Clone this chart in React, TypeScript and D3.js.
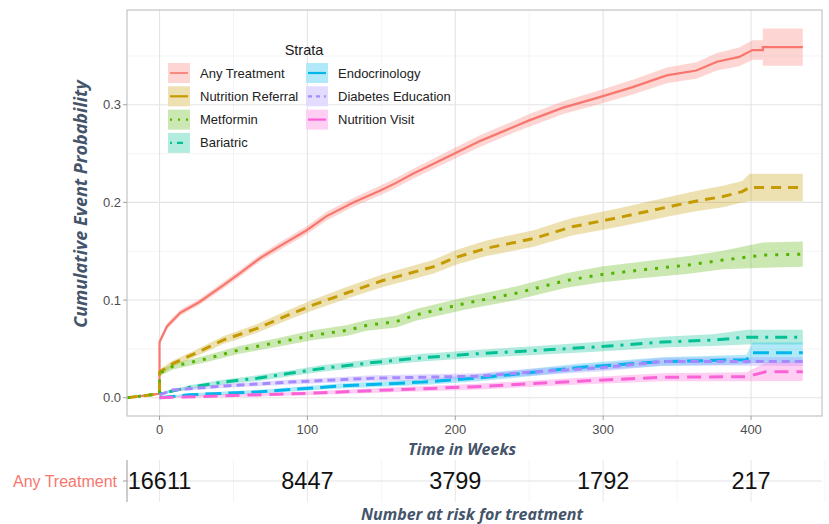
import React from "react";
import * as d3 from "d3";

// series
const strata = [
  "Any Treatment",
  "Nutrition Referral",
  "Metformin",
  "Bariatric",
  "Endocrinology",
  "Diabetes Education",
  "Nutrition Visit",
];

const weeksAny = [-22, 0, 0, 5, 14, 27, 43, 54, 68, 81, 99, 113, 131, 149, 160, 171, 194, 217, 239, 250, 273, 296, 320, 343, 363, 377, 392, 401, 408, 408, 435];
const estAny = [0, 0.004, 0.057, 0.073, 0.087, 0.098, 0.115, 0.127, 0.143, 0.155, 0.171, 0.186, 0.2, 0.212, 0.22, 0.229, 0.246, 0.263, 0.277, 0.284, 0.297, 0.307, 0.318, 0.33, 0.335, 0.344, 0.349, 0.356, 0.356, 0.359, 0.359];
const ciAny = [0.001, 0.001, 0.003, 0.003, 0.003, 0.003, 0.0035, 0.0035, 0.0035, 0.004, 0.004, 0.0045, 0.0045, 0.005, 0.005, 0.005, 0.0055, 0.006, 0.006, 0.0065, 0.0065, 0.007, 0.0075, 0.008, 0.0085, 0.009, 0.0095, 0.01, 0.01, 0.019, 0.019];

const weeksReferral = [-22, 0, 0, 9, 25, 43, 66, 86, 104, 126, 151, 185, 201, 221, 253, 279, 309, 349, 365, 381, 394, 399, 435];
const estReferral = [0, 0.004, 0.026, 0.035, 0.046, 0.059, 0.071, 0.084, 0.095, 0.107, 0.12, 0.134, 0.144, 0.153, 0.163, 0.175, 0.184, 0.197, 0.202, 0.206, 0.211, 0.2153, 0.2153];
const ciReferral = [0.001, 0.001, 0.003, 0.003, 0.0035, 0.004, 0.0045, 0.005, 0.0055, 0.006, 0.0065, 0.007, 0.0075, 0.008, 0.0085, 0.009, 0.0095, 0.01, 0.0105, 0.011, 0.011, 0.014, 0.014];

const weeksMetformin = [-22, 0, 0, 9, 32, 54, 81, 104, 127, 140, 160, 174, 208, 241, 275, 298, 327, 358, 381, 408, 435];
const estMetformin = [0, 0.004, 0.025, 0.032, 0.04, 0.049, 0.057, 0.064, 0.069, 0.074, 0.078, 0.085, 0.097, 0.107, 0.12, 0.126, 0.131, 0.136, 0.141, 0.146, 0.147];
const ciMetformin = [0.001, 0.001, 0.003, 0.003, 0.0035, 0.004, 0.0045, 0.005, 0.0055, 0.0055, 0.006, 0.006, 0.0065, 0.007, 0.0075, 0.008, 0.0085, 0.009, 0.0095, 0.013, 0.013];

const weeksBariatric = [0, 21, 43, 66, 88, 110, 144, 178, 214, 250, 295, 340, 374, 397, 435];
const estBariatric = [0.004, 0.011, 0.016, 0.02, 0.025, 0.03, 0.036, 0.041, 0.045, 0.048, 0.052, 0.057, 0.059, 0.062, 0.062];
const ciBariatric = [0.001, 0.002, 0.0025, 0.003, 0.003, 0.0035, 0.0035, 0.004, 0.004, 0.0045, 0.005, 0.0055, 0.006, 0.0075, 0.0075];

const weeksEndo = [0, 20, 66, 122, 178, 214, 284, 340, 397, 401, 435];
const estEndo = [0, 0.003, 0.006, 0.012, 0.016, 0.02, 0.031, 0.037, 0.039, 0.046, 0.046];
const ciEndo = [0.001, 0.0015, 0.002, 0.0025, 0.003, 0.0035, 0.004, 0.0045, 0.005, 0.0105, 0.0105];

const weeksEducation = [0, 9, 43, 88, 144, 214, 250, 300, 340, 435];
const estEducation = [0.003, 0.008, 0.012, 0.016, 0.02, 0.022, 0.026, 0.031, 0.037, 0.037];
const ciEducation = [0.001, 0.0015, 0.002, 0.0025, 0.003, 0.003, 0.0035, 0.004, 0.004, 0.0045];

const weeksVisit = [0, 43, 100, 156, 214, 284, 340, 397, 410, 435];
const estVisit = [0, 0.002, 0.0045, 0.008, 0.0113, 0.017, 0.021, 0.0215, 0.0266, 0.0266];
const ciVisit = [0.001, 0.0015, 0.002, 0.0025, 0.003, 0.0035, 0.004, 0.0045, 0.0095, 0.0095];

const riskWeeks = [0, 100, 200, 300, 400];
const riskAny = [16611, 8447, 3799, 1792, 217];

const yTicks = [0, 0.1, 0.2, 0.3];
const xTicks = [0, 100, 200, 300, 400];

const colors = ["#F8766D", "#C49A00", "#53B400", "#00C094", "#00B6EB", "#A58AFF", "#FB61D7"];
const dashes = ["none", "10,7", "3,8", "3,7,12,7", "16,7", "8,5", "14,8"];

const series = [
  [weeksAny, estAny, ciAny],
  [weeksReferral, estReferral, ciReferral],
  [weeksMetformin, estMetformin, ciMetformin],
  [weeksBariatric, estBariatric, ciBariatric],
  [weeksEndo, estEndo, ciEndo],
  [weeksEducation, estEducation, ciEducation],
  [weeksVisit, estVisit, ciVisit],
].map(([t, e, c], i) => ({
  name: strata[i],
  color: colors[i],
  dash: dashes[i],
  points: t.map((w, j) => ({ t: w, est: e[j], lo: e[j] - c[j], hi: e[j] + c[j] })),
}));

const W = 829;
const H = 524;
const panel = { left: 127, right: 822, top: 10, bottom: 416 };
const risk = { top: 460, bottom: 502 };

const titleFont = "'Open Sans', Lato, sans-serif";
const axisFont = "'Liberation Sans', Arial, sans-serif";
const titleColor = "#44546a";

export default function App() {
  const x = d3.scaleLinear().domain([-22, 448]).range([panel.left, panel.right]);
  const y = d3.scaleLinear().domain([-0.0187, 0.397]).range([panel.bottom, panel.top]);

  type P = { t: number; est: number; lo: number; hi: number };
  const line = d3.line<P>().x((d) => x(d.t)).y((d) => y(d.est));
  const area = d3
    .area<P>()
    .x((d) => x(d.t))
    .y0((d) => y(Math.max(0, d.lo)))
    .y1((d) => y(d.hi));

  const yMinor = [0.05, 0.15, 0.25, 0.35];
  const xMinor = [50, 150, 250, 350];

  const legendRows = [
    { i: 0, col: 0, row: 0 },
    { i: 1, col: 0, row: 1 },
    { i: 2, col: 0, row: 2 },
    { i: 3, col: 0, row: 3 },
    { i: 4, col: 1, row: 0 },
    { i: 5, col: 1, row: 1 },
    { i: 6, col: 1, row: 2 },
  ];

  return (
    <svg
      width={W}
      height={H}
      style={{ position: "absolute", left: 0, top: 0, background: "#fff" }}
    >
      <rect x={0} y={0} width={W} height={H} fill="#fff" />

      {/* grid */}
      {yMinor.map((v) => (
        <line key={"ym" + v} x1={panel.left} x2={panel.right} y1={y(v)} y2={y(v)} stroke="#f1f1f1" strokeWidth={0.8} />
      ))}
      {xMinor.map((v) => (
        <line key={"xm" + v} x1={x(v)} x2={x(v)} y1={panel.top} y2={panel.bottom} stroke="#f1f1f1" strokeWidth={0.8} />
      ))}
      {yTicks.map((v) => (
        <line key={"yg" + v} x1={panel.left} x2={panel.right} y1={y(v)} y2={y(v)} stroke="#e4e4e4" strokeWidth={1.1} />
      ))}
      {xTicks.map((v) => (
        <line key={"xg" + v} x1={x(v)} x2={x(v)} y1={panel.top} y2={panel.bottom} stroke="#e4e4e4" strokeWidth={1.1} />
      ))}

      {/* ribbons then lines */}
      {series.map((s) => (
        <path key={"r" + s.name} d={area(s.points) || ""} fill={s.color} fillOpacity={0.3} stroke="none" />
      ))}
      {series.map((s, i) => (
        <path
          key={"l" + s.name}
          d={line(s.points) || ""}
          fill="none"
          stroke={s.color}
          strokeWidth={i === 0 ? 2.2 : 3}
          strokeDasharray={s.dash}
        />
      ))}

      <rect
        x={panel.left}
        y={panel.top}
        width={panel.right - panel.left}
        height={panel.bottom - panel.top}
        fill="none"
        stroke="#c8c8c8"
        strokeWidth={1.3}
      />

      {/* axes */}
      {yTicks.map((v) => (
        <g key={"yt" + v}>
          <line x1={panel.left - 4} x2={panel.left} y1={y(v)} y2={y(v)} stroke="#a0a0a0" />
          <text x={panel.left - 6} y={y(v)} dy="0.35em" textAnchor="end" fontFamily={axisFont} fontSize={13} fill="#4d4d4d">
            {d3.format(".1f")(v)}
          </text>
        </g>
      ))}
      {xTicks.map((v) => (
        <g key={"xt" + v}>
          <line x1={x(v)} x2={x(v)} y1={panel.bottom} y2={panel.bottom + 4} stroke="#a0a0a0" />
          <text x={x(v)} y={panel.bottom + 18} textAnchor="middle" fontFamily={axisFont} fontSize={13} fill="#4d4d4d">
            {v}
          </text>
        </g>
      ))}
      <text
        transform={`translate(87, 204) rotate(-90)`}
        textAnchor="middle"
        fontFamily={titleFont}
        fontStyle="italic"
        fontWeight={700}
        fontSize={18}
        fill={titleColor}
      >
        Cumulative Event Probability
      </text>
      <text x={462} y={455} textAnchor="middle" fontFamily={titleFont} fontStyle="italic" fontWeight={700} fontSize={16} fill={titleColor}>
        Time in Weeks
      </text>

      {/* legend */}
      <g>
        <text x={304} y={55} textAnchor="middle" fontFamily={axisFont} fontSize={14.5} fill="#1a1a1a">
          Strata
        </text>
        {legendRows.map(({ i, col, row }) => {
          const s = series[i];
          const kx = col === 0 ? 168 : 306;
          const cy = 73 + row * 23.3;
          return (
            <g key={"lg" + s.name}>
              <rect x={kx} y={cy - 10} width={22} height={20} fill="#fff" />
              <rect x={kx} y={cy - 10} width={22} height={20} fill={s.color} fillOpacity={0.3} />
              <line
                x1={kx + 2}
                x2={kx + 20}
                y1={cy}
                y2={cy}
                stroke={s.color}
                strokeWidth={i === 0 ? 1.6 : 2.2}
                strokeDasharray={i === 2 ? "2,6" : i === 3 ? "2,5,6,5" : i === 5 ? "4,4" : "none"}
              />
              <text x={kx + 32} y={cy} dy="0.35em" fontFamily={axisFont} fontSize={13} fill="#222">
                {s.name}
              </text>
            </g>
          );
        })}
      </g>

      {/* risk table */}
      {[...xMinor, 450].map((v) => (
        <line key={"rm" + v} x1={x(v)} x2={x(v)} y1={risk.top} y2={risk.bottom} stroke="#f1f1f1" strokeWidth={0.8} />
      ))}
      {xTicks.map((v) => (
        <line key={"rg" + v} x1={x(v)} x2={x(v)} y1={risk.top} y2={risk.bottom} stroke="#e9e9e9" strokeWidth={1.1} />
      ))}
      <line x1={panel.left} x2={panel.right} y1={481} y2={481} stroke="#e4e4e4" strokeWidth={1.1} />
      <line x1={panel.left} x2={panel.left} y1={risk.top} y2={risk.bottom} stroke="#9a9a9a" strokeWidth={1} />
      <line x1={panel.left - 4} x2={panel.left} y1={481} y2={481} stroke="#9a9a9a" />
      <text x={117} y={481} dy="0.35em" textAnchor="end" fontFamily={axisFont} fontSize={16} fill={colors[0]}>
        Any Treatment
      </text>
      {riskWeeks.map((w, i) => (
        <text
          key={"rk" + w}
          x={x(w)}
          y={481}
          dy="0.36em"
          textAnchor="middle"
          fontFamily="'Liberation Sans Narrow', 'Arial Narrow', sans-serif"
          fontSize={23.5}
          fill="#111"
        >
          {riskAny[i]}
        </text>
      ))}
      <text x={472} y={520} textAnchor="middle" fontFamily={titleFont} fontStyle="italic" fontWeight={700} fontSize={16} fill={titleColor}>
        Number at risk for treatment
      </text>
    </svg>
  );
}
